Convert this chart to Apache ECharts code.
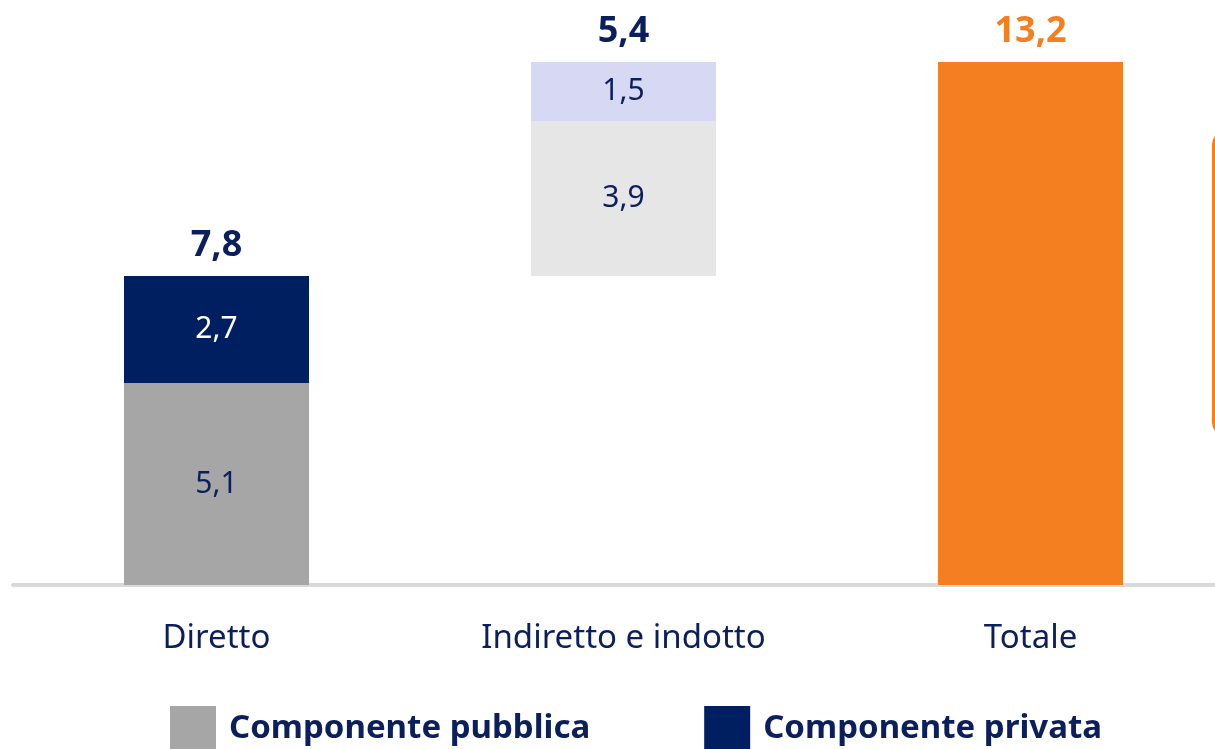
<!DOCTYPE html>
<html>
<head>
<meta charset="utf-8">
<script src="https://cdn.jsdelivr.net/npm/echarts@6/dist/echarts.min.js"></script>
<style>
  html, body { margin: 0; padding: 0; background: #fff; }
  #chart { width: 1215px; height: 749px; }
</style>
</head>
<body>
<div id="chart"></div>
<script>
// dati
var categories = ['Diretto', 'Indiretto e indotto', 'Totale'];
var pubblica = [5.1, '-', '-'];
var privata = [2.7, '-', '-'];
var indirettoBase = ['-', 3.9, '-'];
var indirettoTop = ['-', 1.5, '-'];
var totale = ['-', '-', 13.2];
var offset = [0, 7.8, 0];         // base invisibile della cascata
var totali = [7.8, 13.2, 13.2];   // dove stanno le etichette in alto
var totaliLabel = [7.8, 5.4, 13.2];

var navy = '#0b1f5c';
var orange = '#f47f20';
var font = 'Noto Sans';

function fmt(v) { return Number(v).toFixed(1).replace('.', ','); }

var inner = function (color) {
  return {
    show: true, position: 'inside', color: color,
    fontFamily: font, fontSize: 30,
    formatter: function (p) { return fmt(p.value); }
  };
};

var chart = echarts.init(document.getElementById('chart'));
chart.setOption({
  animation: false,
  grid: { left: 13, top: 62, width: 1221, bottom: 164, outerBoundsMode: 'none' },
  xAxis: {
    type: 'category',
    data: categories,
    axisLine: { lineStyle: { color: '#d9d9d9', width: 4 } },
    axisTick: { show: false },
    axisLabel: { color: navy, fontFamily: font, fontSize: 33, margin: 37 }
  },
  yAxis: { type: 'value', min: 0, max: 13.2, show: false },
  legend: {
    data: ['Componente pubblica', 'Componente privata'],
    left: 170, top: 706, padding: 0,
    itemWidth: 46, itemHeight: 46, itemGap: 114,
    icon: 'rect',
    textStyle: {
      color: navy, fontFamily: font, fontSize: 33, fontWeight: 'bold',
      padding: [3, 0, 0, 8]
    }
  },
  graphic: [{
    type: 'rect', left: 1211, top: 130,
    shape: { width: 200, height: 302, r: 12 },
    style: { fill: 'none', stroke: orange, lineWidth: 3 }
  }],
  series: [
    { type: 'bar', stack: 'a', data: offset, barWidth: 185,
      itemStyle: { color: 'transparent' }, silent: true },
    { name: 'Componente pubblica', type: 'bar', stack: 'a', data: pubblica,
      itemStyle: { color: '#a6a6a6' }, label: inner(navy) },
    { name: 'Componente privata', type: 'bar', stack: 'a', data: privata,
      itemStyle: { color: '#001f60' }, label: inner('#ffffff') },
    { name: 'Indiretto base', type: 'bar', stack: 'a', data: indirettoBase,
      itemStyle: { color: '#e6e6e6' }, label: inner(navy) },
    { name: 'Indiretto top', type: 'bar', stack: 'a', data: indirettoTop,
      itemStyle: { color: '#d7d8f3' }, label: inner(navy) },
    { name: 'Totale', type: 'bar', stack: 'a', data: totale,
      itemStyle: { color: orange } },
    {
      type: 'scatter', symbolSize: 0, silent: true,
      itemStyle: { color: 'transparent', opacity: 1 },
      data: totali.map(function (v, i) {
        return { value: [i, v], label: { color: i === 2 ? orange : navy } };
      }),
      label: {
        show: true, position: 'top', distance: 12, opacity: 1,
        fontFamily: font, fontSize: 36, fontWeight: 'bold',
        formatter: function (p) { return fmt(totaliLabel[p.dataIndex]); }
      }
    }
  ]
});
</script>
</body>
</html>
